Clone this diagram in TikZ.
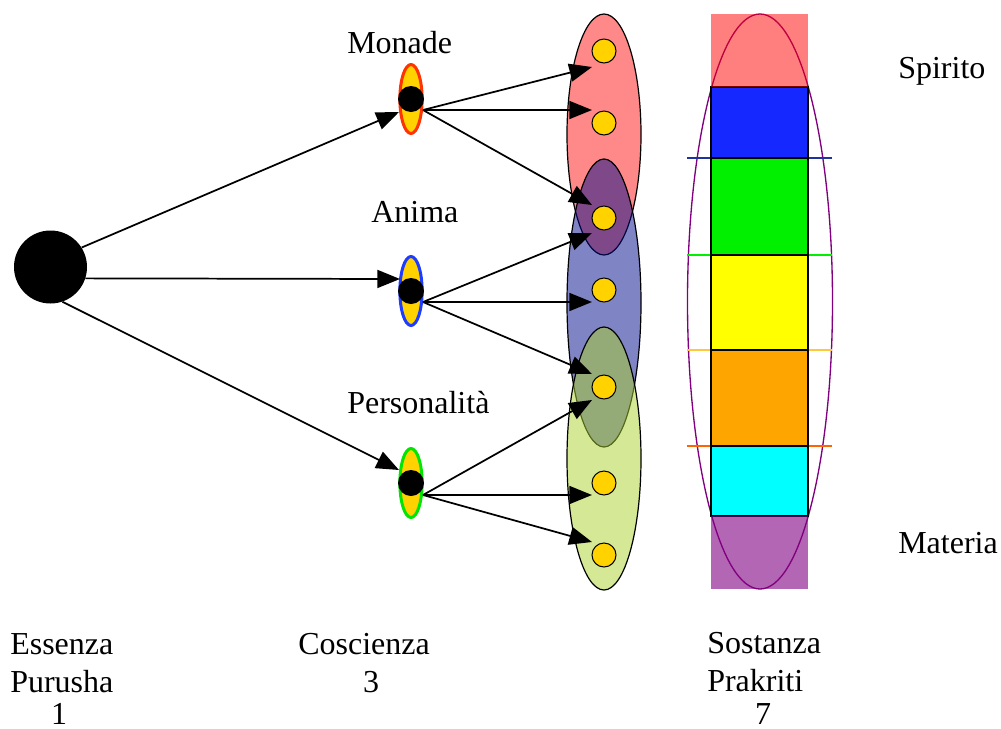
\documentclass[tikz,border=0pt]{standalone}
\usepackage{fontspec}
\setmainfont{Liberation Serif}
\usetikzlibrary{shapes.geometric,arrows.meta}
\definecolor{gold}{RGB}{255,210,0}
\definecolor{soulred}{RGB}{255,51,0}
\definecolor{soulblue}{RGB}{30,60,255}
\definecolor{soulgreen}{RGB}{0,230,0}
\definecolor{bagpink}{RGB}{255,136,136}
\definecolor{bagblue}{RGB}{0,10,137}
\definecolor{baggreen}{RGB}{170,210,45}
\definecolor{bandblue}{RGB}{20,40,255}
\definecolor{bandgreen}{RGB}{0,240,0}
\definecolor{bandyellow}{RGB}{255,255,0}
\definecolor{bandorange}{RGB}{255,165,0}
\definecolor{bandcyan}{RGB}{0,255,255}
\definecolor{linegold}{RGB}{255,200,60}
\definecolor{lineorange}{RGB}{255,100,0}
\definecolor{linenavy}{RGB}{30,50,160}
\tikzset{
  lbl/.style={anchor=base west, inner sep=0pt, font=\fontsize{24}{29}\selectfont},
  lblc/.style={lbl, anchor=base},
  arr/.style={-{Triangle[length=17pt,width=13.5pt]}, line width=1.3pt},
  soul/.style={ellipse, draw=#1, fill=gold, line width=2.25pt, minimum width=16.7pt, minimum height=51.75pt, inner sep=0pt},
  core/.style={circle, fill=black, minimum size=19.5pt, inner sep=0pt},
  seed/.style={circle, draw=black, fill=gold, line width=0.75pt, minimum size=18pt, inner sep=0pt},
  bag/.style={ellipse, draw=black, line width=0.9pt, minimum width=55.5pt, inner sep=0pt},
  band/.style={draw=black, line width=1.1pt}
}
\begin{document}
\begin{tikzpicture}[x=0.75pt,y=-0.75pt]
        \useasboundingbox (0,0) rectangle (1001,729);
        \def\colL{711}
        \def\colR{808}
        \def\lineL{687}
        \def\lineR{832}

        \node[bag, fill=bagpink, minimum height=180.75pt] (bagtop) at (604,134.5) {};
        \node[bag, fill=bagblue, fill opacity=0.5, minimum height=216pt] (bagmid) at (604,303) {};
        \node[bag, fill=baggreen, fill opacity=0.5, minimum height=197.25pt] (baglow) at (604,458.5) {};

        \node[seed] (s1) at (604,51) {};
        \node[seed] (s2) at (604,123) {};
        \node[seed] (s3) at (604,218) {};
        \node[seed] (s4) at (604,290) {};
        \node[seed] (s5) at (604,387) {};
        \node[seed] (s6) at (604,483) {};
        \node[seed] (s7) at (604,555) {};

        \node[circle, fill=black, minimum size=54.75pt, inner sep=0pt] (purusha) at (50.5,267) {};
        \node[soul=soulred] (monade) at (411,99) {};
        \node[soul=soulblue] (anima) at (411,291) {};
        \node[soul=soulgreen] (perso) at (411,483) {};
        \node[core] (monadecore) at (411,99) {};
        \node[core] (animacore) at (411,291) {};
        \node[core] (persocore) at (411,483) {};

        \draw[arr] (purusha.32) -- ([shift={(-12,13)}]monade.center);
        \draw[arr] (purusha.-18) -- ([shift={(-11,-12)}]anima.center);
        \draw[arr] (purusha.-71) -- ([shift={(-12,-13)}]perso.center);

        \draw[arr] ([shift={(12,11)}]monadecore.center) -- ([shift={(-12,16)}]s1.center);
        \draw[arr] ([shift={(12,11)}]monadecore.center) -- ([shift={(-12,-13)}]s2.center);
        \draw[arr] ([shift={(12,11)}]monadecore.center) -- ([shift={(-12,-13)}]s3.center);
        \draw[arr] ([shift={(12,11)}]animacore.center) -- ([shift={(-12,15)}]s3.center);
        \draw[arr] ([shift={(12,11)}]animacore.center) -- ([shift={(-12,12)}]s4.center);
        \draw[arr] ([shift={(12,11)}]animacore.center) -- ([shift={(-12,-13)}]s5.center);
        \draw[arr] ([shift={(12,12)}]persocore.center) -- ([shift={(-12,13)}]s5.center);
        \draw[arr] ([shift={(12,12)}]persocore.center) -- ([shift={(-12,12)}]s6.center);
        \draw[arr] ([shift={(12,12)}]persocore.center) -- ([shift={(-12,-13)}]s7.center);

        \draw[violet, line width=1pt] (760,301.5) ellipse [x radius=54.375pt, y radius=215.625pt];
        \draw[linenavy, line width=1.1pt] (\lineL,158) -- (\lineR,158);
        \draw[bandgreen, line width=1.1pt] (\lineL,255) -- (\lineR,255);
        \draw[linegold, line width=1.1pt] (\lineL,350) -- (\lineR,350);
        \draw[lineorange, line width=1.1pt] (\lineL,446) -- (\lineR,446);
        \draw[band, fill=bandblue] (\colL,87) rectangle (\colR,158);
        \draw[band, fill=bandgreen] (\colL,158) rectangle (\colR,255);
        \draw[band, fill=bandyellow] (\colL,255) rectangle (\colR,350);
        \draw[band, fill=bandorange] (\colL,350) rectangle (\colR,446);
        \draw[band, fill=bandcyan] (\colL,446) rectangle (\colR,516);
        \fill[red, opacity=0.5] (\colL,14) rectangle (\colR,87);
        \fill[violet, opacity=0.6] (\colL,516) rectangle (\colR,589);

        \node[lbl] (monadetxt) at (347,53) {Monade};
        \node[lbl] (animatxt) at (371,222) {Anima};
        \node[lbl] (persotxt) at (347,413) {Personalità};
        \node[lbl] (spiritotxt) at (898,78) {Spirito};
        \node[lbl] (materiatxt) at (898,553) {Materia};
        \node[lbl] (essenza) at (10,654) {Essenza};
        \node[lbl] (purushatxt) at (10,692) {Purusha};
        \node[lblc] (one) at (59,724) {1};
        \node[lbl] (coscienza) at (298,654) {Coscienza};
        \node[lblc] (three) at (371,692) {3};
        \node[lbl] (sostanza) at (707,653) {Sostanza};
        \node[lbl] (prakriti) at (707,691) {Prakriti};
        \node[lblc] (seven) at (763,724) {7};
\end{tikzpicture}
\end{document}
